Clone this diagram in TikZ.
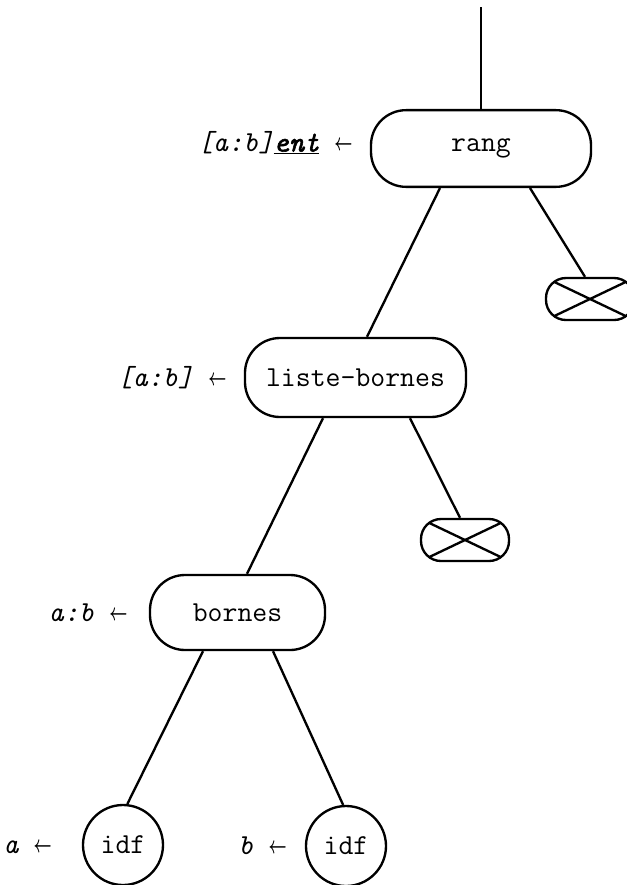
\documentclass[tikz,border=0pt]{standalone}
\usepackage{fontspec}
\newfontface\entfont[FakeBold=2]{lmmono10-italic.otf}
\usetikzlibrary{calc}
\newcommand\larr{\raisebox{1pt}{\scalebox{0.65}[1]{\fontsize{20}{20}\selectfont\boldmath$\leftarrow$}}}
\tikzset{
  every picture/.style={font=\ttfamily\fontsize{24.7}{30}\selectfont, line width=2pt},
  term/.style={draw, rounded corners=1.05cm, minimum width=#1, minimum height=2.3cm, inner sep=0pt},
  term/.default=6.6cm,
  leaf/.style={draw, circle, minimum size=2.4cm, inner sep=0pt},
  nil/.style={draw, rounded corners=0.6cm, minimum width=2.64cm, minimum height=1.26cm, inner sep=0pt,
    path picture={\draw (path picture bounding box.north west) -- (path picture bounding box.south east)
      (path picture bounding box.south west) -- (path picture bounding box.north east);}},
  lab/.style={font=\ttfamily\itshape\fontsize{24.7}{30}\selectfont, anchor=base east, inner sep=0pt},
}

\begin{document}
\begin{tikzpicture}[x=0.03cm, y=-0.03cm]
  \useasboundingbox (0,0) rectangle (627,885);
  \coordinate (top) at (481,7);
  % nodes
  \node[term] (rang) at (481,148.5) {rang};
  \node[term=6.63cm, minimum height=2.37cm] (lb) at (355.5,377.5) {liste-bornes};
  \node[term=5.25cm, minimum height=2.25cm] (bornes) at (237.5,612.5) {bornes};
  \node[nil] (nil1) at (590,299) {};
  \node[nil] (nil2) at (465,540) {};
  \node[leaf] (idfa) at (123,845) {idf};
  \node[leaf] (idfb) at (346,846) {idf};
  % labels
  \node[lab] (lrang) at ($(rang.base west)+(-16,0)$) {[a:b]\underline{\entfont ent} \larr};
  \node[lab] (llb) at ($(lb.base west)+(-16,0)$) {[a:b] \larr};
  \node[lab] (lbornes) at ($(bornes.base west)+(-20,0)$) {a:b \larr};
  \node[lab] (lidfa) at ($(idfa.base)+(-70,0)$) {a \larr};
  \node[lab] (lidfb) at ($(idfb.base)+(-58,0)$) {b \larr};
  % edges
  \draw (top) -- (rang.north);
  \draw ($(rang.south)+(-41,0)$) -- ($(lb.north)+(11.5,0)$);
  \draw ($(rang.south)+(49,0)$) -- ($(nil1.north)+(-5,0)$);
  \draw ($(lb.south)+(-32.5,0)$) -- ($(bornes.north)+(9.5,0)$);
  \draw ($(lb.south)+(54.5,0)$) -- ($(nil2.north)+(-5,0)$);
  \draw ($(bornes.south)+(-34.5,0)$) -- (idfa.84);
  \draw ($(bornes.south)+(35.5,0)$) -- (idfb.94);
\end{tikzpicture}
\end{document}
